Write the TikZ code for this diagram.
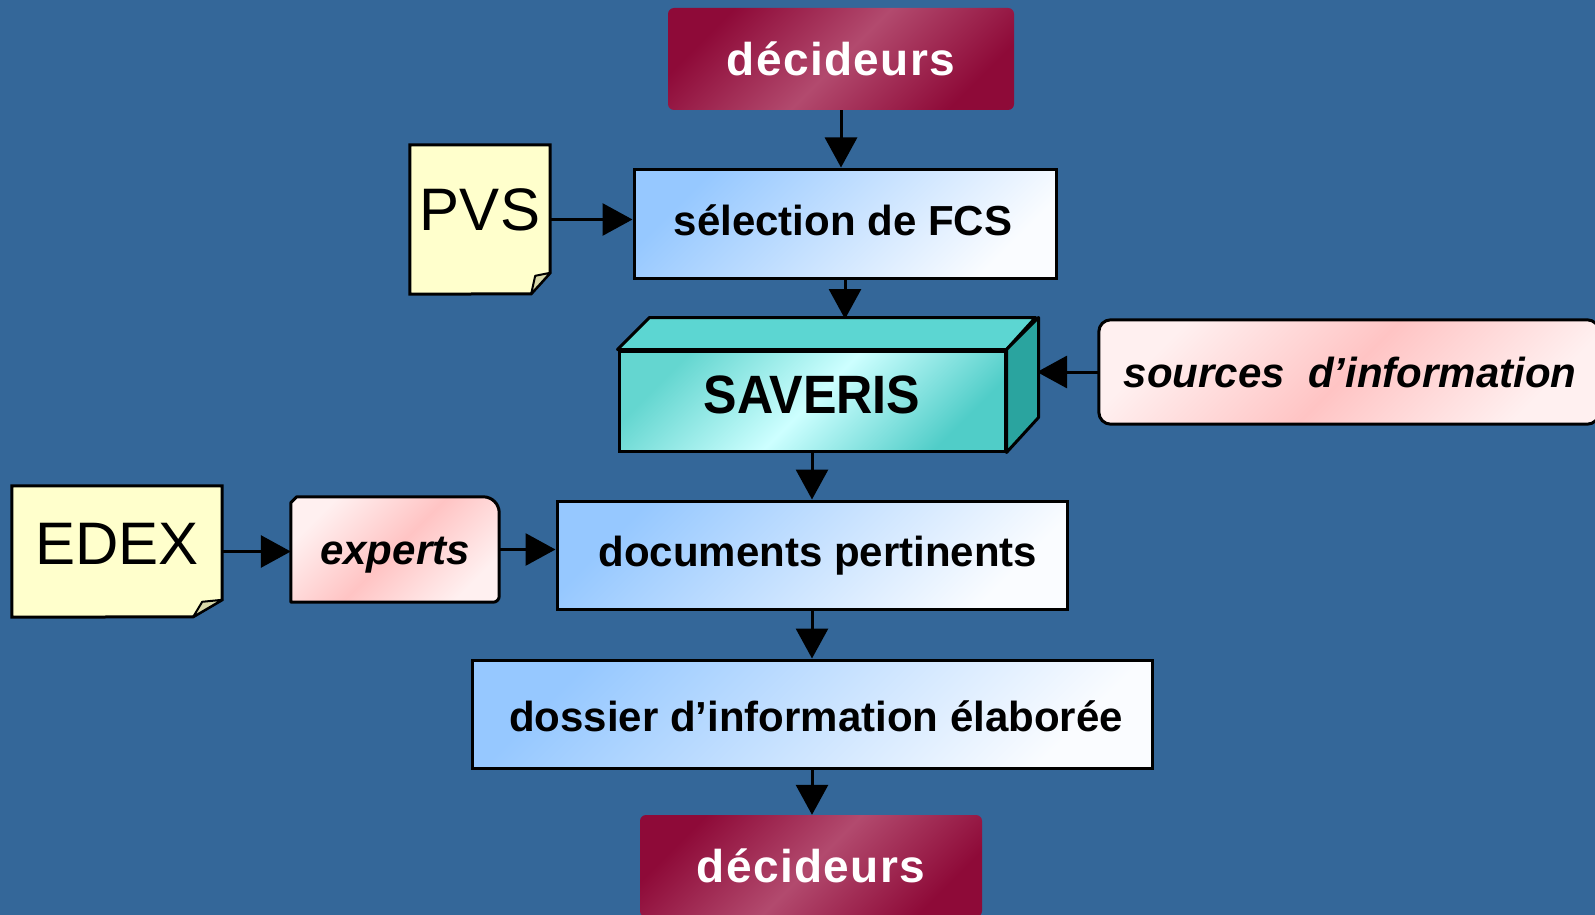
\documentclass[tikz,border=0pt]{standalone}
\usepackage{fontspec}
\setmainfont{Liberation Sans}
\usetikzlibrary{arrows.meta}
\definecolor{bg}{RGB}{52,103,153}
\definecolor{decA}{RGB}{142,10,56}
\definecolor{decB}{RGB}{178,74,110}
\definecolor{blueA}{RGB}{150,200,255}
\definecolor{blueB}{RGB}{250,252,255}
\definecolor{cyA}{RGB}{100,214,208}
\definecolor{cyB}{RGB}{205,255,255}
\definecolor{cyC}{RGB}{80,205,200}
\definecolor{cyTop}{RGB}{92,214,210}
\definecolor{cySide}{RGB}{42,164,159}
\definecolor{pinkA}{RGB}{255,240,240}
\definecolor{pinkB}{RGB}{255,196,196}
\definecolor{noteY}{RGB}{255,255,204}
\definecolor{foldY}{RGB}{216,216,168}
\begin{document}
\begin{tikzpicture}[x=1pt,y=-1pt,
  decbox/.style={rounded corners=6pt, left color=decA, right color=decA, middle color=decB, shading angle=45,
    text=white, inner sep=0pt, font=\bfseries\fontsize{46}{46}\selectfont},
  bluebox/.style={draw=black, line width=3pt, left color=blueA, right color=blueB, shading angle=45,
    inner sep=0pt, font=\bfseries\fontsize{42}{42}\selectfont},
  pinkbox/.style={inner sep=0pt, font=\bfseries\itshape\fontsize{42}{42}\selectfont},
  pinkfill/.style={draw=black, line width=3pt, left color=pinkA, right color=pinkA, middle color=pinkB, shading angle=45},
  notebox/.style={inner sep=0pt, font=\fontsize{60}{60}\selectfont},
  notefill/.style={draw=black, line width=3pt, fill=noteY, line join=miter},
  foldfill/.style={draw=black, line width=2pt, fill=foldY, line join=round},
  arr/.style={line width=3pt, -{Triangle[length=30pt,width=32pt]}, black}
]
\fill[bg] (0,0) rectangle (1595,915);
\useasboundingbox (0,0) rectangle (1595,915);

% decideurs top
\node[decbox, minimum width=346pt, minimum height=102pt] (decT) at (841,59) {\addfontfeature{LetterSpace=3}décideurs};

% selection
\node[bluebox, minimum width=422pt, minimum height=109pt] (sel) at (845,223.5) {};
\node[inner sep=0pt, font=\bfseries\fontsize{42}{42}\selectfont] at (843,220) {sélection de FCS};

% PVS note
\node[notebox, minimum width=140pt, minimum height=149pt] (pvs) at (480,219.5) {};
\draw[notefill] (pvs.north west) -- (pvs.north east) -- ++(0,128) -- ++(-19,21) -- (pvs.south west) -- cycle;
\draw[foldfill] (pvs.north east) ++(0,128) -- ++(-19,21) -- ++(4,-18) -- cycle;
\node[notebox] at ([yshift=10pt]pvs.center) {PVS};

% SAVERIS
\node[minimum width=386pt, minimum height=100pt, inner sep=0pt, draw=black, line width=3pt,
  left color=cyA, right color=cyC, middle color=cyB, shading angle=45] (sav) at (812,401) {};
\draw[line width=3pt, fill=cyTop, line join=round] (sav.north west) -- ++(32,-32) -- ++(386,0) -- (sav.north east) -- cycle;
\draw[line width=3pt, fill=cySide, line join=round] (sav.north east) -- ++(32,-32) -- ++(0,100) -- (sav.south east) -- cycle;
\node[inner sep=0pt, font=\bfseries\fontsize{54}{54}\selectfont, xscale=0.93] at ([yshift=6pt]sav.center) {SAVERIS};
\coordinate (savTop) at (842,319);
\coordinate (savR) at (1037,370);

% sources
\node[pinkbox, minimum width=500pt, minimum height=104pt] (src) at (1349,372) {};
\draw[pinkfill, rounded corners=12pt] (src.north west) rectangle (src.south east);
\node[pinkbox] at (1350,372) {sources\ \ d’information};

% documents
\node[bluebox, minimum width=510pt, minimum height=108pt] (docs) at (812,555) {};
\node[inner sep=0pt, font=\bfseries\fontsize{42}{42}\selectfont] at (818,556) {documents pertinents};

% experts
\node[pinkbox, minimum width=208pt, minimum height=105pt] (exp) at (395,549.5) {};
\draw[pinkfill, line join=round] ([xshift=6pt]exp.north west) [rounded corners=16pt] -- (exp.north east) [rounded corners=6pt] -- (exp.south east) [sharp corners] -- (exp.south west) -- ([yshift=-6pt]exp.north west) -- cycle;
\node[pinkbox] at ([yshift=-6pt]exp.center) {experts};

% EDEX note
\node[notebox, minimum width=210pt, minimum height=131pt] (edex) at (117,551.5) {};
\draw[notefill] (edex.north west) -- (edex.north east) -- ++(0,114) -- ++(-29,17) -- (edex.south west) -- cycle;
\draw[foldfill] (edex.north east) ++(0,114) -- ++(-29,17) -- ++(9,-15) -- cycle;
\node[notebox] at ([yshift=8pt]edex.center) {EDEX};

% dossier
\node[bluebox, minimum width=680pt, minimum height=108pt] (dos) at (812,714) {};
\node[inner sep=0pt, font=\bfseries\fontsize{42}{42}\selectfont] at (816,716) {dossier d’information élaborée};

% decideurs bottom
\node[decbox, minimum width=342pt, minimum height=102pt] (decBt) at (811,866) {\addfontfeature{LetterSpace=3}décideurs};

% arrows
\draw[arr] (decT.south) -- (decT.south |- sel.north);
\draw[arr] (pvs.east) -- (pvs.east -| sel.west);
\draw[arr] (sel.south) -- (sel.south |- savTop);
\draw[arr] (src.west) -- (src.west -| savR);
\draw[arr] (sav.south) -- (sav.south |- docs.north);
\draw[arr] (edex.east) -- (edex.east -| exp.west);
\draw[arr] (exp.east) -- (exp.east -| docs.west);
\draw[arr] (docs.south) -- (docs.south |- dos.north);
\draw[arr] (dos.south) -- (dos.south |- decBt.north);
\end{tikzpicture}
\end{document}
